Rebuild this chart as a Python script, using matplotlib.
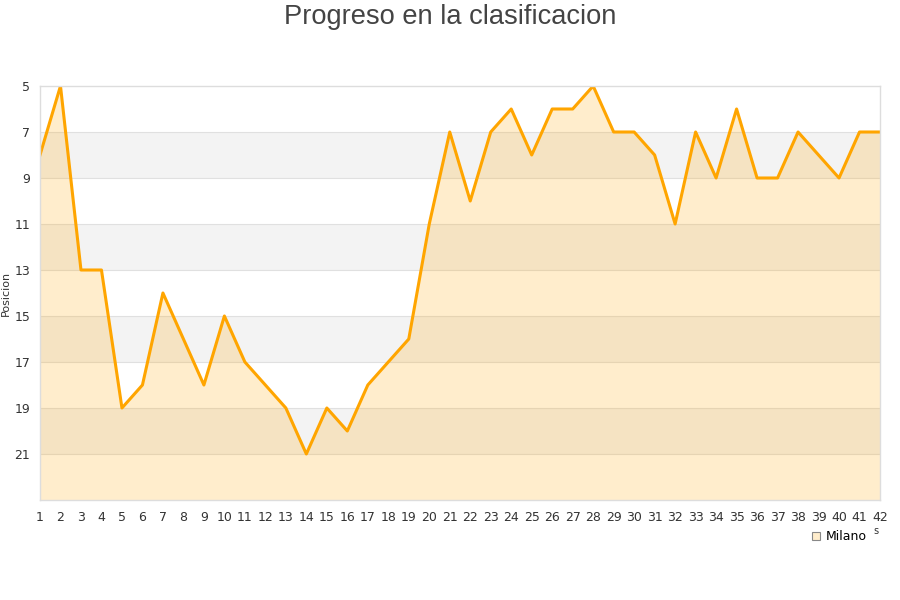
import matplotlib
matplotlib.use("Agg")
import matplotlib.pyplot as plt
import numpy as np

jornadas = list(range(1, 43))
posiciones = [8, 5, 13, 13, 19, 18, 14, 16, 18, 15, 17, 18, 19, 21, 19, 20, 18, 17, 16, 11,
              7, 10, 7, 6, 8, 6, 6, 5, 7, 7, 8, 11, 7, 9, 6, 9, 9, 7, 8, 9, 7, 7]
yticks = [5, 7, 9, 11, 13, 15, 17, 19, 21]
team = "Milano"
title = "Progreso en la clasificacion"

fig = plt.figure(figsize=(9, 6), dpi=100)
ax = fig.add_axes([40/900, 1-500/600, 840/900, 414/600])

ymin, ymax = 5, 23
# alternating bands
for i, y0 in enumerate(range(5, 23, 2)):
    if i % 2 == 1:
        ax.axhspan(y0, y0 + 2, color="#f3f3f3", zorder=0, lw=0)
for y in yticks[1:]:
    ax.axhline(y, color="#e0e0e0", lw=0.8, zorder=0.5)

ax.fill_between(jornadas, posiciones, ymax, color="#ffa500", alpha=0.2, zorder=1, lw=0)
ax.plot(jornadas, posiciones, color="#ffa500", lw=2.2, zorder=2, label=team)

ax.set_xlim(1, 42)
ax.set_ylim(ymax, ymin)
ax.set_yticks(yticks)
ax.set_xticks(jornadas)
ax.tick_params(axis="both", length=0, labelsize=9, colors="#333333", pad=8)
ax.tick_params(axis="y", pad=7)
for s in ax.spines.values():
    s.set_color("#dddddd")
    s.set_linewidth(1)

ax.set_ylabel("Posicion", fontsize=8, color="#333333")
ax.yaxis.set_label_coords((11 - 40) / 840, 0.5)
fig.text(0.5, 1-17/600, title, ha="center", va="center", fontsize=19.6, color="#444444",
         family="Liberation Sans")

h = plt.Line2D([], [], marker="s", ls="none", markersize=6, markerfacecolor="#ffedcc",
               markeredgecolor="#888888", markeredgewidth=0.8)
fig.legend([h], [team], loc="center", bbox_to_anchor=(838/900, 1-537/600), frameon=False,
           fontsize=9, handletextpad=0.3, handlelength=1)
fig.text(876/900, 1-531/600, "s", fontsize=7, color="#333333", ha="center", va="center")

fig.savefig("out.png", dpi=100)
